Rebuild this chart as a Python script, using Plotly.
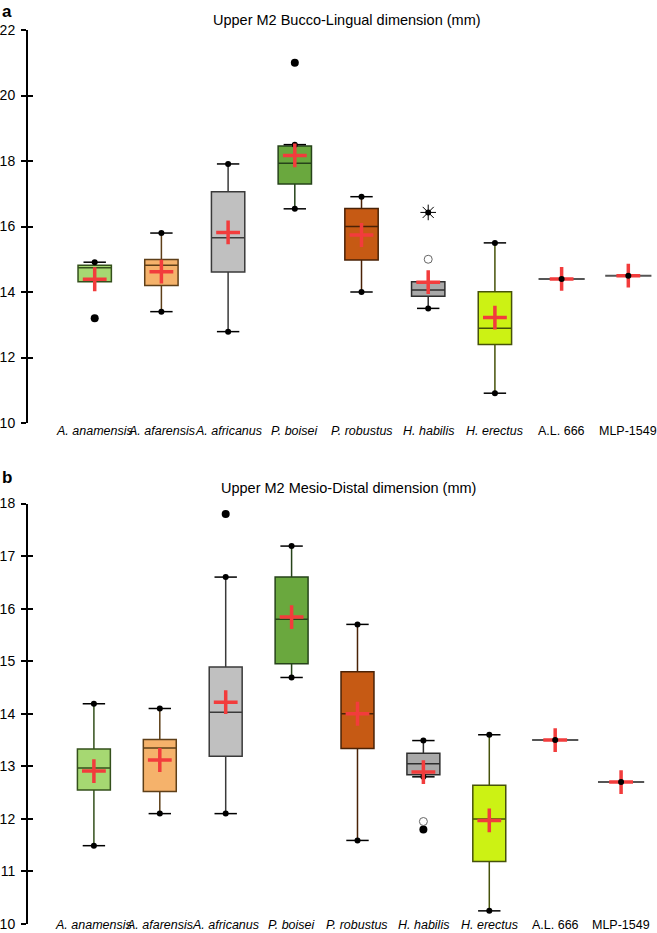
import plotly.graph_objects as go

categories = ["A. anamensis", "A. afarensis", "A. africanus", "P. boisei", "P. robustus",
              "H. habilis", "H. erectus", "A.L. 666", "MLP-1549"]
species = categories[:7]
specimens = categories[7:]
italic = [True] * 7 + [False, False]

fill_colors = ["#a6d872", "#f5b26b", "#c0c0c0", "#6aa83e", "#c65a14", "#a9a9a9", "#ccf214"]
line_colors = ["#34501c", "#5e3f18", "#3a3a3a", "#26431a", "#4a2206", "#2e2e2e", "#46520a"]

# Panel a: Upper M2 Bucco-Lingual dimension (mm)
bl_q1 = [14.31, 14.20, 14.61, 17.30, 14.98, 13.87, 12.40]
bl_median = [14.74, 14.82, 15.66, 17.93, 16.00, 14.06, 12.89]
bl_q3 = [14.82, 14.99, 17.06, 18.46, 16.55, 14.31, 14.01]
bl_low = [14.31, 13.40, 12.79, 16.54, 14.00, 13.50, 10.91]
bl_high = [14.91, 15.80, 17.91, 18.50, 16.91, 14.31, 15.50]
bl_mean = [14.39, 14.62, 15.82, 18.17, 15.74, 14.30, 13.22]
bl_single = [14.4, 14.5]
bl_out_filled_x = ["A. anamensis", "P. boisei"]
bl_out_filled_y = [13.2, 21.0]
bl_out_open_x = ["H. habilis"]
bl_out_open_y = [15.0]
bl_out_star_x = ["H. habilis"]
bl_out_star_y = [16.43]

# Panel b: Upper M2 Mesio-Distal dimension (mm)
md_q1 = [12.55, 12.52, 13.19, 14.95, 13.34, 12.84, 11.19]
md_median = [12.97, 13.35, 14.03, 15.80, 14.00, 13.05, 12.00]
md_q3 = [13.33, 13.51, 14.89, 16.60, 14.80, 13.25, 12.64]
md_low = [11.49, 12.10, 12.10, 14.69, 11.59, 12.80, 10.25]
md_high = [14.19, 14.10, 16.60, 17.19, 15.70, 13.49, 13.60]
md_mean = [12.91, 13.12, 14.22, 15.84, 14.00, 12.89, 11.97]
md_single = [13.5, 12.7]
md_out_filled_x = ["A. africanus", "H. habilis"]
md_out_filled_y = [17.80, 11.80]
md_out_open_x = ["H. habilis"]
md_out_open_y = [11.95]
md_out_star_x = []
md_out_star_y = []

yticks_a = [10, 12, 14, 16, 18, 20, 22]
yticks_b = [10, 11, 12, 13, 14, 15, 16, 17, 18]

FONT = "Liberation Sans, Arial, sans-serif"
RED = "#f23c3c"

fig = go.Figure()


def add_panel(xa, ya, q1, med, q3, low, high, mean, single,
              ofx, ofy, oox, ooy, osx, osy):
    for i, name in enumerate(species):
        fig.add_trace(go.Box(
            x=[name], q1=[q1[i]], median=[med[i]], q3=[q3[i]],
            lowerfence=[low[i]], upperfence=[high[i]],
            fillcolor=fill_colors[i], line=dict(color=line_colors[i], width=1.5),
            width=0.5, boxpoints=False, whiskerwidth=0,
            xaxis=xa, yaxis=ya, showlegend=False, hoverinfo="skip"))
    # whisker caps + end dots
    cx, cy = [], []
    for i, name in enumerate(species):
        if low[i] < q1[i]:
            cx.append(name); cy.append(low[i])
        if high[i] > q3[i]:
            cx.append(name); cy.append(high[i])
    fig.add_trace(go.Scatter(x=cx, y=cy, mode="markers", xaxis=xa, yaxis=ya,
                             marker=dict(symbol="line-ew", size=16, color="black",
                                         line=dict(color="black", width=1.5)),
                             showlegend=False, hoverinfo="skip"))
    fig.add_trace(go.Scatter(x=cx, y=cy, mode="markers", xaxis=xa, yaxis=ya,
                             marker=dict(symbol="circle", size=6, color="black"),
                             showlegend=False, hoverinfo="skip"))
    # outliers
    fig.add_trace(go.Scatter(x=ofx, y=ofy, mode="markers", xaxis=xa, yaxis=ya,
                             marker=dict(symbol="circle", size=8, color="black"),
                             showlegend=False, hoverinfo="skip"))
    fig.add_trace(go.Scatter(x=oox, y=ooy, mode="markers", xaxis=xa, yaxis=ya,
                             marker=dict(symbol="circle-open", size=8, color="#666666",
                                         line=dict(color="#666666", width=1)),
                             showlegend=False, hoverinfo="skip"))
    fig.add_trace(go.Scatter(x=osx, y=osy, mode="markers", xaxis=xa, yaxis=ya,
                             marker=dict(symbol="asterisk-open", size=13, color="black",
                                         line=dict(color="black", width=1)),
                             showlegend=False, hoverinfo="skip"))
    fig.add_trace(go.Scatter(x=osx, y=osy, mode="markers", xaxis=xa, yaxis=ya,
                             marker=dict(symbol="circle", size=6, color="black"),
                             showlegend=False, hoverinfo="skip"))
    # single specimens: horizontal bar
    fig.add_trace(go.Scatter(x=specimens, y=single, mode="markers", xaxis=xa, yaxis=ya,
                             marker=dict(symbol="line-ew", size=33, color="#555555",
                                         line=dict(color="#555555", width=2)),
                             showlegend=False, hoverinfo="skip"))
    # means
    fig.add_trace(go.Scatter(x=species + specimens, y=mean + single, mode="markers",
                             xaxis=xa, yaxis=ya,
                             marker=dict(symbol="cross-thin", size=17, color=RED,
                                         line=dict(color=RED, width=3.5)),
                             showlegend=False, hoverinfo="skip"))
    fig.add_trace(go.Scatter(x=specimens, y=single, mode="markers", xaxis=xa, yaxis=ya,
                             marker=dict(symbol="circle", size=6, color="black"),
                             showlegend=False, hoverinfo="skip"))


add_panel("x", "y", bl_q1, bl_median, bl_q3, bl_low, bl_high, bl_mean, bl_single,
          bl_out_filled_x, bl_out_filled_y, bl_out_open_x, bl_out_open_y,
          bl_out_star_x, bl_out_star_y)
add_panel("x2", "y2", md_q1, md_median, md_q3, md_low, md_high, md_mean, md_single,
          md_out_filled_x, md_out_filled_y, md_out_open_x, md_out_open_y,
          md_out_star_x, md_out_star_y)

# invisible traces that make the overlay axes (inner half of the crossing ticks) render
fig.add_trace(go.Scatter(x=specimens, y=bl_single, mode="markers", opacity=0,
                         xaxis="x", yaxis="y3", showlegend=False, hoverinfo="skip"))
fig.add_trace(go.Scatter(x=specimens, y=md_single, mode="markers", opacity=0,
                         xaxis="x2", yaxis="y4", showlegend=False, hoverinfo="skip"))

H = 933.0
W = 657.0
dom_a = [1 - 423 / H, 1 - 30 / H]
dom_b = [1 - 924 / H, 1 - 503.5 / H]
xdom = [28 / W, 1.0]

xcommon = dict(type="category", categoryorder="array", categoryarray=categories,
               showline=False, showticklabels=False, showgrid=False, zeroline=False,
               ticks="", automargin=False)
ycommon = dict(showline=True, linecolor="black", linewidth=2, ticks="outside",
               ticklen=5, tickwidth=2, tickcolor="black", showgrid=False, zeroline=False,
               tickfont=dict(family=FONT, size=14, color="black"), ticklabelstandoff=3,
               ticklabeloverflow="allow", automargin=False)
yover = dict(showline=False, ticks="inside", ticklen=5, tickwidth=2, tickcolor="black",
             showgrid=False, zeroline=False, showticklabels=False, automargin=False)

annotations = []
for i, c in enumerate(categories):
    txt = f"<i>{c}</i>" if italic[i] else c
    annotations.append(dict(x=c, xref="x", y=1 - 431 / H, yref="paper", text=txt,
                            showarrow=False, yanchor="middle",
                            font=dict(family=FONT, size=12.5, color="black")))
    annotations.append(dict(x=c, xref="x2", y=1 - 925 / H, yref="paper", text=txt,
                            showarrow=False, yanchor="middle",
                            font=dict(family=FONT, size=12.5, color="black")))
annotations += [
    dict(x=347 / W, y=1 - 20 / H, xref="paper", yref="paper", showarrow=False,
         text="Upper M2 Bucco-Lingual dimension (mm)", yanchor="middle",
         font=dict(family=FONT, size=14.5, color="black")),
    dict(x=348 / W, y=1 - 488 / H, xref="paper", yref="paper", showarrow=False,
         text="Upper M2 Mesio-Distal dimension (mm)", yanchor="middle",
         font=dict(family=FONT, size=14.5, color="black")),
    dict(x=0, y=1, xref="paper", yref="paper", showarrow=False, text="<b>a</b>",
         xanchor="left", yanchor="top", font=dict(family=FONT, size=17, color="black")),
    dict(x=0, y=1 - 477 / H, xref="paper", yref="paper", showarrow=False, text="<b>b</b>",
         xanchor="left", yanchor="middle", font=dict(family=FONT, size=17, color="black")),
]

fig.update_layout(
    width=657, height=933, margin=dict(l=0, r=0, t=0, b=0, autoexpand=False),
    paper_bgcolor="white", plot_bgcolor="white", boxmode="overlay",
    showlegend=False,
    xaxis=dict(domain=xdom, anchor="y", range=[-1, 8.43], **xcommon),
    xaxis2=dict(domain=xdom, anchor="y2", range=[-1, 8.545], **xcommon),
    yaxis=dict(domain=dom_a, anchor="x", range=[10, 22], tickvals=yticks_a, **ycommon),
    yaxis2=dict(domain=dom_b, anchor="x2", range=[10, 18], tickvals=yticks_b, **ycommon),
    yaxis3=dict(overlaying="y", anchor="x", range=[10, 22], tickvals=yticks_a, **yover),
    yaxis4=dict(overlaying="y2", anchor="x2", range=[10, 18], tickvals=yticks_b, **yover),
    annotations=annotations,
)

fig.write_html(
    "out.html",
    config={"displayModeBar": False},
    post_script=("document.body.style.margin='0px';"
                 "document.body.style.overflow='hidden';"
                 "document.documentElement.style.overflow='hidden';"),
)
